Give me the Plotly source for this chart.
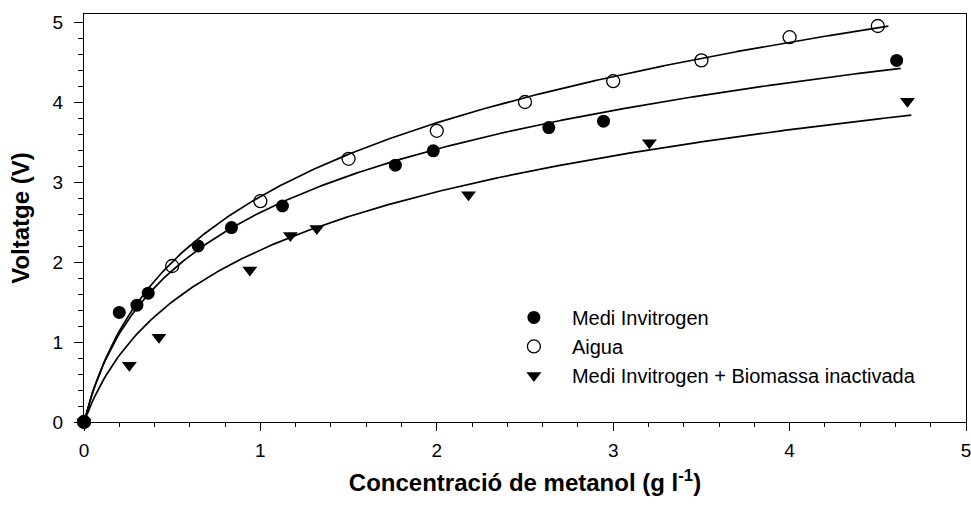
import numpy as np
import plotly.graph_objects as go

# ---------------- data ----------------
series_names = ["Medi Invitrogen", "Aigua", "Medi Invitrogen + Biomassa inactivada"]

medi_x = [0, 0.20, 0.30, 0.364, 0.647, 0.836, 1.125, 1.765, 1.98, 2.635, 2.945, 4.607]
medi_y = [0, 1.37, 1.46, 1.61, 2.20, 2.43, 2.70, 3.21, 3.39, 3.68, 3.76, 4.52]

aigua_x = [0, 0.5, 1.0, 1.5, 2.0, 2.5, 3.0, 3.5, 4.0, 4.5]
aigua_y = [0, 1.95, 2.76, 3.29, 3.64, 4.00, 4.26, 4.52, 4.81, 4.95]

bio_x = [0, 0.257, 0.425, 0.94, 1.17, 1.32, 2.18, 3.205, 4.668]
bio_y = [0, 0.71, 1.06, 1.90, 2.33, 2.42, 2.84, 3.49, 4.01]

# regression curves drawn in the reference: y = a*ln(1 + b*x) + c*x
fit_a = [1.26, 1.43, 1.20]
fit_b = [7.0, 6.0, 5.0]
fit_c = [0.0, 0.036, 0.0]
fit_xmax = [4.63, 4.56, 4.69]

x_tick_vals = [0, 1, 2, 3, 4, 5]
y_tick_vals = [0, 1, 2, 3, 4, 5]

x_title = "<b>Concentració de metanol (g l<sup>-1</sup>)</b>"
y_title = "<b>Voltatge (V)</b>"

# ---------------- figure ----------------
FONT = "Liberation Sans, Arial, Helvetica, sans-serif"
fig = go.Figure()

xs_list = [medi_x, aigua_x, bio_x]
ys_list = [medi_y, aigua_y, bio_y]

# fitted lines
for i in range(3):
    xf = np.linspace(0, fit_xmax[i], 300)
    yf = fit_a[i] * np.log1p(fit_b[i] * xf) + fit_c[i] * xf
    fig.add_trace(go.Scatter(x=xf, y=yf, mode="lines",
                             line=dict(color="black", width=1.7),
                             showlegend=False, hoverinfo="skip",
                             cliponaxis=False))

marker_styles = [
    dict(symbol="circle", size=13, color="black"),
    dict(symbol="circle-open", size=13, color="black", line=dict(width=1.3, color="black")),
    dict(symbol="triangle-down", size=13, color="black"),
]

for i in range(3):
    fig.add_trace(go.Scatter(x=xs_list[i], y=ys_list[i], mode="markers",
                             name=series_names[i], marker=marker_styles[i],
                             cliponaxis=False))

axis_common = dict(
    showgrid=False, zeroline=False, showline=True, linecolor="black",
    linewidth=1.3, mirror=True, ticks="outside", tickcolor="black",
    tickwidth=1.3, ticklabeloverflow="allow",
    tickfont=dict(family=FONT, size=19, color="black"),
)

fig.update_xaxes(range=[0, 5], tickvals=x_tick_vals, ticklen=8,
                 ticklabelstandoff=3,
                 title=dict(text=x_title, standoff=14,
                            font=dict(family=FONT, size=24, color="black")),
                 minor=dict(dtick=0.2, ticks="outside", ticklen=4,
                            tickcolor="black", tickwidth=1),
                 **axis_common)
fig.update_yaxes(range=[0, 5.1], tickvals=y_tick_vals, ticklen=9,
                 ticklabelstandoff=7,
                 title=dict(text=y_title, standoff=16,
                            font=dict(family=FONT, size=24, color="black")),
                 minor=dict(dtick=0.2, ticks="outside", ticklen=5,
                            tickcolor="black", tickwidth=1),
                 **axis_common)

fig.update_layout(
    width=971, height=509,
    margin=dict(l=84, r=5, t=14, b=87, autoexpand=False),
    plot_bgcolor="white", paper_bgcolor="white",
    font=dict(family=FONT, color="black"),
    legend=dict(x=0.467, y=0.304, xanchor="left", yanchor="top",
                bgcolor="rgba(0,0,0,0)", borderwidth=0,
                itemwidth=66, tracegroupgap=0,
                font=dict(family=FONT, size=20, color="black")),
)

fig.write_html("out.html", config={"displayModeBar": False})
